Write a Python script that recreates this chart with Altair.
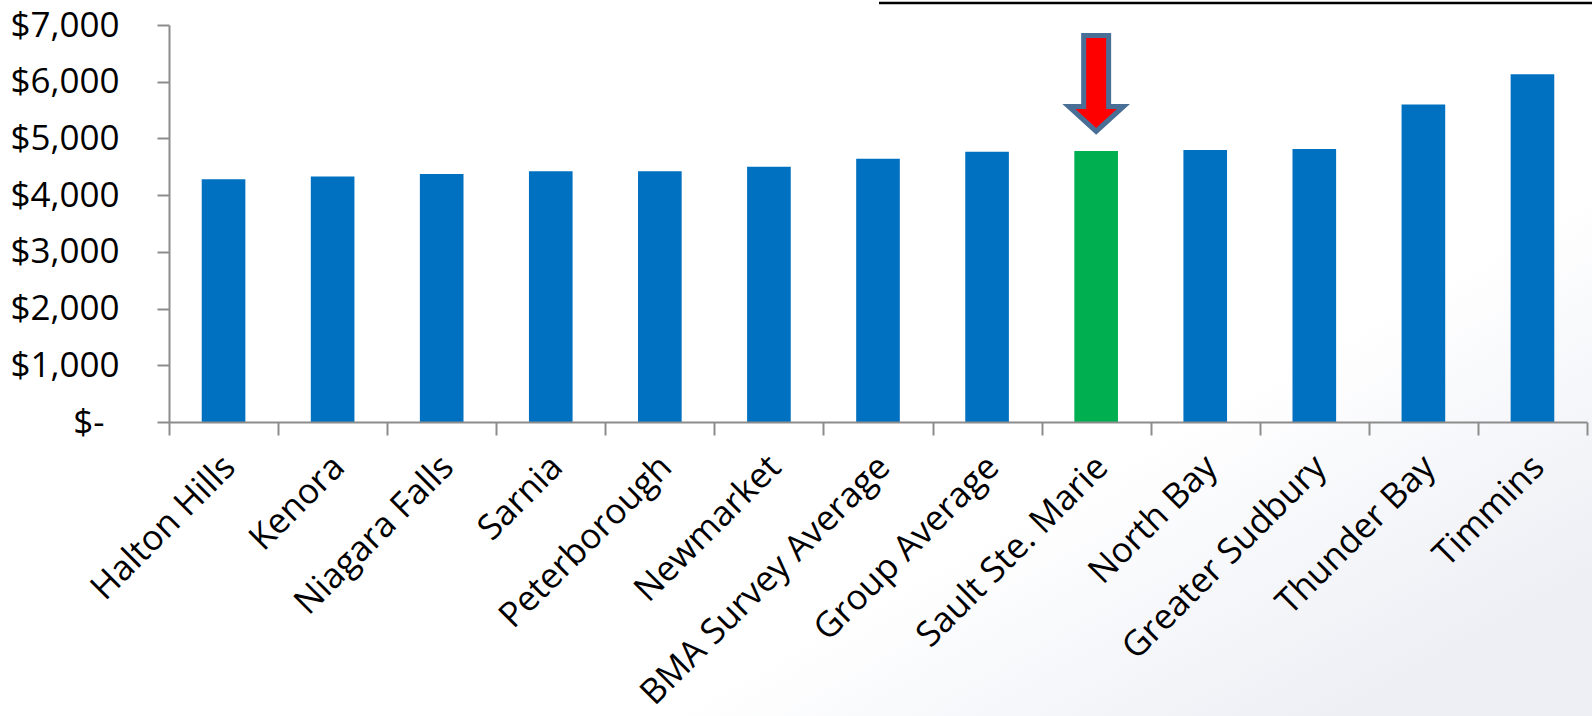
import altair as alt
import pandas as pd

# ---- data ----
categories = ["Halton Hills", "Kenora", "Niagara Falls", "Sarnia", "Peterborough",
              "Newmarket", "BMA Survey Average", "Group Average", "Sault Ste. Marie",
              "North Bay", "Greater Sudbury", "Thunder Bay", "Timmins"]
values = [4280, 4330, 4375, 4420, 4420, 4500, 4640, 4765, 4780, 4795, 4815, 5600, 6130]
highlight = "Sault Ste. Marie"
y_ticks = [0, 1000, 2000, 3000, 4000, 5000, 6000, 7000]
arrow_value = [5970]
boundaries = list(range(len(categories) + 1))

FONT = "Open Sans"
GRAY = "#8C8C8C"
BLUE = "#0070C0"
GREEN = "#00B050"

df = pd.DataFrame({"city": categories, "cost": values})
arrow_df = pd.DataFrame({"city": [highlight], "cost": arrow_value})
bound_df = pd.DataFrame({"b": boundaries})
one = pd.DataFrame({"a": [0]})

x_enc = alt.X(
    "city:N", sort=categories,
    scale=alt.Scale(paddingInner=0.6, paddingOuter=0.3),
    axis=alt.Axis(title=None, labelAngle=-45, labelAlign="right", labelBaseline="top",
                  labelFont=FONT, labelFontSize=35, labelColor="black",
                  ticks=False, tickSize=0, labelPadding=27, labelOffset=-6,
                  labelLimit=1000, labelOverlap=False,
                  domainColor=GRAY, domainWidth=2, zindex=1),
)
y_enc = alt.Y(
    "cost:Q",
    scale=alt.Scale(domain=[0, 7000], nice=False),
    axis=alt.Axis(title=None, values=y_ticks,
                  labelExpr="datum.value == 0 ? '$-' : '$' + format(datum.value, ',')",
                  labelFont=FONT, labelFontSize=35, labelColor="black",
                  labelPadding={"condition": {"test": "datum.value == 0", "value": 53}, "value": 38},
                  tickSize=12, tickColor=GRAY, tickWidth=2,
                  domainColor=GRAY, domainWidth=2, grid=False, zindex=1),
)

background = alt.Chart(one).mark_rect(
    color=alt.Gradient(
        gradient="linear",
        stops=[alt.GradientStop(color="#FFFFFF", offset=0),
               alt.GradientStop(color="#FFFFFF", offset=0.74),
               alt.GradientStop(color="#EDEFF5", offset=1)],
        x1=0, y1=0, x2=1, y2=0.8,
    )
).encode(x=alt.value(-169), x2=alt.value(1423), y=alt.value(-25), y2=alt.value(691))

bars = alt.Chart(df).mark_bar().encode(
    x=x_enc, y=y_enc,
    color=alt.condition(alt.datum.city == highlight, alt.value(GREEN), alt.value(BLUE)),
)

ARROW = "M -0.26 -1 L 0.26 -1 L 0.26 0.48 L 0.57 0.48 L 0 1 L -0.57 0.48 L -0.26 0.48 Z"
arrow = alt.Chart(arrow_df).mark_point(
    shape=ARROW, filled=True, fill="#FF0000", stroke="#4A6F97", strokeWidth=5,
    size=9216, opacity=1, strokeOpacity=1, fillOpacity=1,
).encode(x=alt.X("city:N", sort=categories), y=alt.Y("cost:Q"))

top_line = alt.Chart(one).mark_rule(color="black", strokeWidth=2.5).encode(
    x=alt.value(710), x2=alt.value(1423), y=alt.value(-22)
)

inner = alt.layer(background, bars, arrow, top_line)

ticks = alt.Chart(bound_df).mark_point(opacity=0).encode(
    x=alt.X("b:Q", scale=alt.Scale(domain=[0, len(categories)], nice=False, zero=False),
            axis=alt.Axis(orient="bottom", title=None, values=boundaries, labels=False,
                          domain=False, grid=False, ticks=True, tickSize=13,
                          tickColor=GRAY, tickWidth=2, zindex=1)),
    y=alt.value(0),
)

chart = alt.layer(inner, ticks).resolve_scale(x="independent").properties(
    width=1418, height=397,
    autosize=alt.AutoSizeParams(type="none"),
    padding={"left": 169, "top": 25, "right": 5, "bottom": 294},
    background="white",
).configure_view(stroke=None)

chart.save("out.html", embed_options={"renderer": "svg", "actions": False})
